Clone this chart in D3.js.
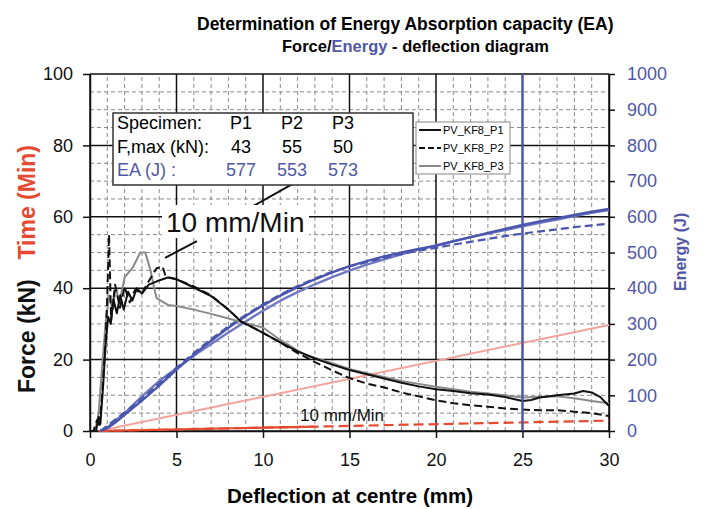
<!DOCTYPE html>
<html><head><meta charset="utf-8">
<script src="https://cdn.jsdelivr.net/npm/d3@7"></script>
<style>body{margin:0;background:#fff}svg{display:block}text{font-family:"Liberation Sans",Arial,sans-serif}</style>
</head><body>
<script>
// ---- data ----
const specimens = ["P1","P2","P3"];
const fmax = [43, 55, 50];
const eaValues = [577, 553, 573];
const legendNames = ["PV_KF8_P1","PV_KF8_P2","PV_KF8_P3"];
const xTicks = [0,5,10,15,20,25,30];
const forceTicks = [0,20,40,60,80,100];
const energyTicks = [0,100,200,300,400,500,600,700,800,900,1000];

const forceP1X = [0,0.35,0.5,0.6,0.75,0.9,1.05,1.2,1.35,1.55,1.75,1.95,2.2,2.45,2.7,3.0,3.4,3.9,4.5,5,6,7,8,8.7,9,10,11,12,13,14,15,16,17,18,19,20,21,22,23,24,25,25.5,26,27,28,28.5,29,29.5,30];
const forceP1Y = [0,0,4,2,12,24,32,30,37,33,38,34,39,36.5,40,38.5,41,42,43,42.5,40.2,37.8,34,30.8,30,27.5,24.8,22.3,20.3,18.6,17.1,15.9,14.7,13.5,12.5,11.7,11.2,10.6,10.2,9.5,8.4,8.7,9.4,10,10.5,11.2,10.8,9.5,7];
const forceP2X = [0,0.2,0.4,0.55,0.7,0.9,1.0,1.1,1.22,1.45,1.73,2.0,2.3,2.6,3.0,3.4,3.85,4.2,4.35,4.6,5,6,7,8,8.7,9,10,11,11.6,12,12.5,13,14,15,16,17,17.5,18,19,20,21,22,23,24,25,26,27,28,29,30];
const forceP2Y = [0,0,3,1,10,25,38,55,31,41,34.5,40.3,36,39.5,38.5,42,45.6,46,43.7,43,42.5,40.5,38,34,30.8,30,27.5,24.8,23,21.8,20.6,19.3,17,14.8,13.3,12.2,11.5,10.8,9.7,8.6,7.8,7.2,6.8,6.3,6,5.8,5.8,5.4,5,4.2];
const forceP3X = [0,0.3,0.5,0.7,0.9,1.1,1.3,1.5,1.7,2.0,2.5,2.9,3.2,3.5,3.65,3.85,4.5,5,6,7,8,8.7,9,10,11,12,12.5,13,14,15,16,17,17.5,18,19,20,21,22,23,24,25,26,27,28,29,30];
const forceP3Y = [0,0,5,18,30,38,34,40,36,43,46,50,50,45,41.4,37.2,35.3,35,34,32.8,31.5,30.6,30.2,29,25.5,22.5,21.3,20.5,19,17.4,16.2,15.1,14.6,14,13.2,12.4,11.7,11,10.5,10,9.4,9.6,9.7,9.2,8.4,7.8];

const energyX = [0.6,1,1.5,2,3,4,5,6,7,8,9,10,11,12,13,14,15,16,17,18,19,20,21,22,23,24,25,26,27,28,29,30];
const energyP1 = [0,8,25,45,85,127,172,214,253,289,322,352,379,403,425,444,462,476,489,500,510,519,531,543,555,566,577,587,596,605,614,622];
const energyP2 = [0,15,33,52,90,133,177,218,257,293,325,355,382,406,427,446,461,473,485,496,505,513,522,530,538,546,553,559,565,571,576,581];
const energyP3 = [0,10,30,50,97,140,176,211,244,276,307,337,365,389,411,431,449,466,481,495,508,520,532,543,553,563,573,583,592,602,611,619];

const timeSlowX = [0.5,30];
const timeSlowY = [0,29.7];
const timeP1X = [0.5,13];
const timeP1Y = [0,1.25];
const timeP2X = [0.5,30];
const timeP2Y = [0,2.9];
const refLineX = 25;

// ---- layout ----
const W = 707, H = 509;
const svg = d3.select("body").append("svg").attr("width", W).attr("height", H);
const x = d3.scaleLinear().domain([0,30]).range([90,609]);
const yF = d3.scaleLinear().domain([0,100]).range([431,74]);
const yE = d3.scaleLinear().domain([0,1000]).range([431,74]);

const BLUE = "#4a55ad", BLUE2 = "#7078c4", RED = "#e5492f", PINK = "#f4a39b", TBLUE = "#5157a6";

// grid minor
const g = svg.append("g");
d3.range(0,31,1).filter(v => v % 5 !== 0).forEach(v => {
  g.append("line").attr("x1", x(v)).attr("x2", x(v)).attr("y1", yF(0)).attr("y2", yF(100))
   .attr("stroke", "#8a8a8a").attr("stroke-width", 1).attr("stroke-dasharray", "4,3");
});
d3.range(0,101,5).filter(v => v % 20 !== 0).forEach(v => {
  g.append("line").attr("x1", x(0)).attr("x2", x(30)).attr("y1", yF(v)).attr("y2", yF(v))
   .attr("stroke", "#8a8a8a").attr("stroke-width", 1).attr("stroke-dasharray", "4,3");
});
// grid major
xTicks.forEach(v => {
  g.append("line").attr("x1", x(v)).attr("x2", x(v)).attr("y1", yF(0)).attr("y2", yF(100))
   .attr("stroke", "#111").attr("stroke-width", 1.5);
});
forceTicks.forEach(v => {
  g.append("line").attr("x1", x(0)).attr("x2", x(30)).attr("y1", yF(v)).attr("y2", yF(v))
   .attr("stroke", "#111").attr("stroke-width", 1.5);
});

// axes
function styleAxis(sel, color) {
  sel.selectAll("path").attr("stroke", "#111").attr("stroke-width", 1.5);
  sel.selectAll("line").attr("stroke", "#111").attr("stroke-width", 1.5);
  sel.selectAll("text").attr("font-size", 18).attr("fill", color)
    .style("font-family", '"Liberation Sans",Arial,sans-serif');
}
const ax = svg.append("g").attr("transform", `translate(0,${yF(0)})`)
  .call(d3.axisBottom(x).tickValues(xTicks).tickSize(7).tickSizeOuter(0).tickPadding(15));
styleAxis(ax, "#111");
const ayl = svg.append("g").attr("transform", `translate(${x(0)},0)`)
  .call(d3.axisLeft(yF).tickValues(forceTicks).tickSize(7).tickSizeOuter(0).tickPadding(10));
styleAxis(ayl, "#111");
const ayr = svg.append("g").attr("transform", `translate(${x(30)},0)`)
  .call(d3.axisRight(yE).tickValues(energyTicks).tickFormat(d3.format("d")).tickSize(6).tickSizeOuter(0).tickPadding(12));
styleAxis(ayr, TBLUE);

// lines
function drawLine(xs, ys, yScale, color, width, dash) {
  const pts = xs.map((v,i) => [v, ys[i]]);
  const gen = d3.line().x(d => x(d[0])).y(d => yScale(d[1]));
  const p = svg.append("path").attr("d", gen(pts)).attr("fill", "none")
    .attr("stroke", color).attr("stroke-width", width).attr("stroke-linejoin", "round");
  if (dash) p.attr("stroke-dasharray", dash);
  return p;
}
drawLine(timeSlowX, timeSlowY, yF, PINK, 2);
drawLine(timeP2X, timeP2Y, yF, RED, 2.2, "10,5");
drawLine(timeP1X, timeP1Y, yF, RED, 2.2);

drawLine(energyX, energyP3, yE, BLUE2, 2.4);
drawLine(energyX, energyP1, yE, BLUE, 2.4);
drawLine(energyX, energyP2, yE, BLUE, 2.2, "8,4");

drawLine(forceP3X, forceP3Y, yF, "#8a8a8a", 2);
drawLine(forceP1X, forceP1Y, yF, "#111", 2);
drawLine(forceP2X, forceP2Y, yF, "#111", 2, "8,4");

// vertical reference line
svg.append("line").attr("x1", x(refLineX)).attr("x2", x(refLineX)).attr("y1", yF(0)).attr("y2", yF(100))
  .attr("stroke", BLUE).attr("stroke-width", 2.2);

// annotations
svg.append("line").attr("x1", x(9.25)).attr("y1", yF(62.5)).attr("x2", x(11.85)).attr("y2", yF(69.6))
  .attr("stroke", "#111").attr("stroke-width", 2);
svg.append("line").attr("x1", x(4.34)).attr("y1", yF(48.5)).attr("x2", x(6.18)).attr("y2", yF(53.2))
  .attr("stroke", "#111").attr("stroke-width", 2);
svg.append("rect").attr("x", 162).attr("y", 205).attr("width", 147).attr("height", 33).attr("fill", "#fff");
svg.append("text").attr("x", 166).attr("y", 232).attr("font-size", 28).attr("fill", "#111").text("10 mm/Min");
svg.append("text").attr("x", 300).attr("y", 421).attr("font-size", 17).attr("fill", "#111").text("10 mm/Min");

// table box
const tb = svg.append("g");
tb.append("rect").attr("x", 113).attr("y", 113).attr("width", 300).attr("height", 72)
  .attr("fill", "#fff").attr("stroke", "#333").attr("stroke-width", 1.5);
const rowsY = [129, 153, 176];
tb.append("text").attr("x", 117).attr("y", rowsY[0]).attr("font-size", 18).text("Specimen:");
tb.append("text").attr("x", 117).attr("y", rowsY[1]).attr("font-size", 18).text("F,max (kN):");
tb.append("text").attr("x", 117).attr("y", rowsY[2]).attr("font-size", 18).attr("fill", TBLUE).text("EA (J) :");
const colX = [241, 292, 343];
specimens.forEach((s,i) => {
  tb.append("text").attr("x", colX[i]).attr("y", rowsY[0]).attr("font-size", 18).attr("text-anchor","middle").text(s);
  tb.append("text").attr("x", colX[i]).attr("y", rowsY[1]).attr("font-size", 18).attr("text-anchor","middle").text(fmax[i]);
  tb.append("text").attr("x", colX[i]).attr("y", rowsY[2]).attr("font-size", 18).attr("text-anchor","middle").attr("fill", TBLUE).text(eaValues[i]);
});

// legend
const lg = svg.append("g");
lg.append("rect").attr("x", 416).attr("y", 122).attr("width", 94).attr("height", 52)
  .attr("fill", "#fff").attr("stroke", "#999").attr("stroke-width", 1.2);
const legStyles = [["#111", null], ["#111", "6,3"], ["#8a8a8a", null]];
const legY = [130, 148, 166];
legendNames.forEach((n,i) => {
  const l = lg.append("line").attr("x1", 419).attr("x2", 441).attr("y1", legY[i]).attr("y2", legY[i])
    .attr("stroke", legStyles[i][0]).attr("stroke-width", 2);
  if (legStyles[i][1]) l.attr("stroke-dasharray", legStyles[i][1]);
  lg.append("text").attr("x", 443).attr("y", legY[i] + 4).attr("font-size", 11).text(n);
});

// titles
svg.append("text").attr("x", 197).attr("y", 30).attr("font-size", 17.5).attr("font-weight", "bold")
  .text("Determination of Energy Absorption capacity (EA)");
const st = svg.append("text").attr("x", 282).attr("y", 52).attr("font-size", 16.5).attr("font-weight", "bold");
st.append("tspan").text("Force/");
st.append("tspan").attr("fill", TBLUE).text("Energy");
st.append("tspan").text(" - deflection diagram");

svg.append("text").attr("x", 350).attr("y", 503).attr("text-anchor", "middle").attr("font-size", 20.5)
  .attr("font-weight", "bold").text("Deflection at centre (mm)");

svg.append("text").attr("transform", "translate(35,393) rotate(-90)")
  .attr("font-size", 23).attr("font-weight", "bold").attr("fill", "#111").text("Force (kN)");
svg.append("text").attr("transform", "translate(35,145) rotate(-90)").attr("text-anchor", "end")
  .attr("font-size", 23).attr("font-weight", "bold").attr("fill", RED).text("Time (Min)");

svg.append("text").attr("transform", "translate(686,291) rotate(-90)")
  .attr("font-size", 16).attr("font-weight", "bold").attr("fill", TBLUE).text("Energy (J)");
</script>
</body></html>
